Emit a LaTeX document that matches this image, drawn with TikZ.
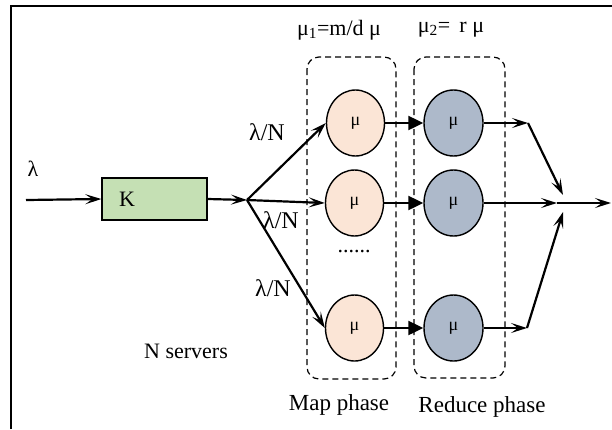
\documentclass[tikz,border=0pt]{standalone}
\usepackage{fontspec}
\setmainfont{Liberation Serif}
\usetikzlibrary{arrows.meta,shapes.geometric}
\definecolor{kgreen}{HTML}{C5E0B4}
\definecolor{mappeach}{HTML}{FBE5D6}
\definecolor{redblue}{HTML}{ADB9CA}
\tikzset{
  lbl/.style={font=\fontsize{22}{25}\selectfont, inner sep=0pt},
  mapnode/.style={ellipse, draw, line width=1.4pt, fill=mappeach, minimum width=58pt, minimum height=66pt, inner sep=0pt, font=\fontsize{18}{20}\selectfont},
  rednode/.style={ellipse, draw, line width=1.4pt, fill=redblue, minimum width=59pt, minimum height=66pt, inner sep=0pt, font=\fontsize{18}{20}\selectfont},
  kbox/.style={draw, line width=1.3pt, fill=kgreen, minimum width=105pt, minimum height=42pt, inner sep=0pt},
  phasebox/.style={draw, dash pattern=on 6pt off 4pt, line width=1.2pt, rounded corners=12pt},
  barb/.style={line width=2.2pt, -{Stealth[length=16pt,width=10pt,inset=7pt]}},
  tri/.style={line width=2.2pt, -{Triangle[length=15pt,width=14pt]}}
}
\begin{document}
\begin{tikzpicture}[x=1pt,y=-1pt]
\useasboundingbox (0,0) rectangle (612,429);
% frame
\draw[line width=1.5pt] (11,429) -- (11,6) -- (612,6);
% phase boxes
\draw[phasebox] (307,57) rectangle (396,379);
\draw[phasebox] (414,57) rectangle (505,378);
% nodes
\node[kbox] (k) at (154.5,199) {};
\node[lbl, anchor=west] (klbl) at (119,199) {K};
\coordinate (in) at (26,200);
\coordinate (sp) at (247,200);
\node[mapnode] (m1) at (355.5,123) {μ};
\node[mapnode] (m2) at (354.5,203) {μ};
\node[mapnode] (m3) at (354.5,328) {μ};
\node[rednode] (r1) at (453.5,123) {μ};
\node[rednode] (r2) at (453.5,203) {μ};
\node[rednode] (r3) at (453.5,328) {μ};
\coordinate (c1) at (528,123);
\coordinate (c2) at (557,203);
\coordinate (c3) at (527,328);
\coordinate (j1) at (563,195);
\coordinate (j3) at (563,212);
\coordinate (out) at (611,203);
% connectors
\draw[barb] (in) -- (k.west);
\draw[barb] (k.east) -- (sp);
\draw[barb] (sp) -- (m1.west);
\draw[barb] (sp) -- (m2.west);
\draw[barb] (sp) -- (m3.west);
\draw[tri] (m1.east) -- (r1.west);
\draw[tri] (m2.east) -- (r2.west);
\draw[tri] (m3.east) -- (r3.west);
\draw[barb] (r1.east) -- (c1);
\draw[barb] (r2.east) -- (c2);
\draw[barb] (r3.east) -- (c3);
\draw[barb] (c1) -- (j1);
\draw[barb] (c3) -- (j3);
\draw[barb] (c2) -- (out);
% labels
\node[lbl] (lam) at (33,169) {λ};
\node[lbl] (mu1) at (339,30) {μ\textsubscript{1}=m/d μ};
\node[lbl] (mu2) at (451,30) {μ\textsubscript{2}=\, r μ};
\node[lbl, font=\fontsize{24}{27}\selectfont] (ln1) at (267,132) {λ/N};
\node[lbl, font=\fontsize{24}{27}\selectfont] (ln2) at (281,220) {λ/N};
\node[lbl, font=\fontsize{24}{27}\selectfont] (ln3) at (273,288) {λ/N};
\node[lbl] (dots) at (354,252) {......};
\node[lbl] (ns) at (186,351) {N servers};
\node[lbl, font=\fontsize{23}{26}\selectfont] (mp) at (339,405) {Map phase};
\node[lbl, font=\fontsize{23}{26}\selectfont] (rp) at (482,407) {Reduce phase};
\end{tikzpicture}
\end{document}
